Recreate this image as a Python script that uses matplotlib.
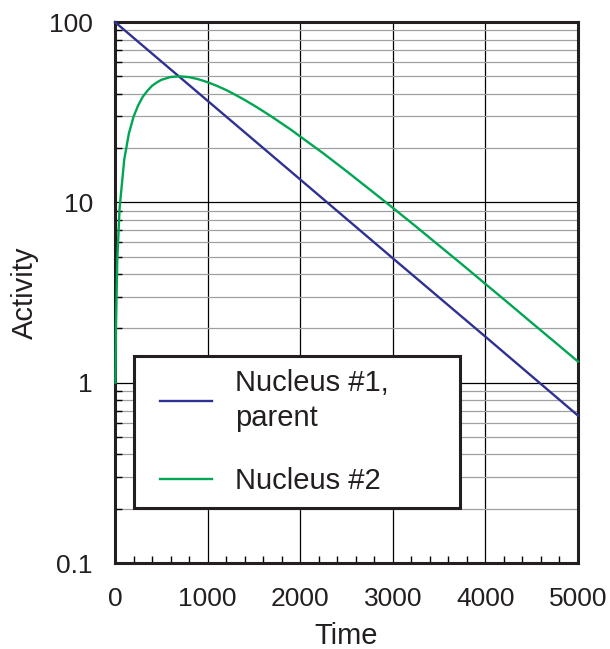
import matplotlib.pyplot as plt
from matplotlib.lines import Line2D
from matplotlib.legend_handler import HandlerLine2D
from matplotlib.ticker import FixedLocator, NullFormatter

plt.rcParams['font.family'] = ['Liberation Sans', 'DejaVu Sans']

# parent decay (straight line on log scale)
t_parent = [0, 1000, 2000, 3000, 4000, 5000]
a_parent = [100, 36.6, 13.4, 4.9, 1.8, 0.657]

# daughter activity
t_daughter = [5, 10, 25, 50, 100, 150, 200, 250, 300, 350, 400, 450, 500, 600, 700,
              800, 900, 1000, 1100, 1200, 1300, 1400, 1500, 1600, 1700, 1800, 1900,
              2000, 2250, 2500, 2750, 3000, 3250, 3500, 3750, 4000, 4250, 4500, 4750, 5000]
a_daughter = [1.0, 1.98, 4.84, 9.32, 17.3, 24.1, 29.8, 34.5, 38.5, 41.6, 44.3, 46.2,
              47.8, 49.6, 50.0, 49.5, 48.2, 46.4, 44.3, 42.0, 39.5, 37.0, 34.5, 32.05,
              29.7, 27.4, 25.3, 23.2, 18.7, 14.9, 11.8, 9.33, 7.35, 5.76, 4.52, 3.53,
              2.76, 2.15, 1.68, 1.31]

x_ticks = [0, 1000, 2000, 3000, 4000, 5000]
y_ticks = [0.1, 1, 10, 100]
y_labels = ['0.1', '1', '10', '100']

blue = '#2e3192'
green = '#00a651'
ink = '#231f20'

fig = plt.figure(figsize=(6.10, 6.49), dpi=100)
ax = fig.add_axes([0.1885, 0.1325, 0.759, 0.8335])

ax.plot(t_parent, a_parent, color=blue, lw=1.7, label='Nucleus #1,\nparent', clip_on=False, zorder=3)
ax.plot(t_daughter, a_daughter, color=green, lw=1.7, label='Nucleus #2', clip_on=False, zorder=3)

ax.set_yscale('log')
ax.set_xlim(0, 5000)
ax.set_ylim(0.1, 100)

ax.xaxis.set_major_locator(FixedLocator(x_ticks))
ax.xaxis.set_minor_locator(FixedLocator([v for v in range(0, 5001, 200) if v % 1000]))
ax.yaxis.set_major_locator(FixedLocator(y_ticks))
ax.set_yticklabels(y_labels)
ax.yaxis.set_minor_locator(FixedLocator([m * d for d in (0.1, 1, 10) for m in range(2, 10)]))
ax.yaxis.set_minor_formatter(NullFormatter())

ax.grid(which='major', color='black', lw=0.9)
ax.grid(which='minor', axis='y', color='#a0a0a0', lw=0.9)

ax.tick_params(which='major', length=0, labelsize=19, colors=ink)
ax.tick_params(axis='x', which='major', pad=17)
ax.tick_params(axis='y', which='major', pad=16)
ax.tick_params(which='minor', direction='in', length=5, width=1, color='black')
ax.tick_params(axis='y', which='minor', left=True, right=False)
ax.tick_params(axis='x', which='minor', bottom=True, top=False)

for s in ax.spines.values():
    s.set_linewidth(2.2)
    s.set_color(ink)

ax.set_xlabel('Time', fontsize=21, color=ink, labelpad=8)
ax.set_ylabel('Activity', fontsize=21, color=ink, labelpad=7)

leg = ax.legend(loc='upper left', bbox_to_anchor=(0.041, 0.109, 0.704, 0.2736), mode='expand',
                fontsize=21, frameon=True, fancybox=False, handlelength=2.22,
                handletextpad=0.8, borderpad=0.45, labelspacing=1.2, borderaxespad=0,
                handler_map={Line2D: HandlerLine2D(xpad=0.43)})
leg.get_frame().set_edgecolor(ink)
leg.get_frame().set_linewidth(2.2)
leg.get_frame().set_alpha(1)
for txt in leg.get_texts():
    txt.set_color(ink)
    txt.set_linespacing(1.3)

fig.savefig('out.png', dpi=100)
